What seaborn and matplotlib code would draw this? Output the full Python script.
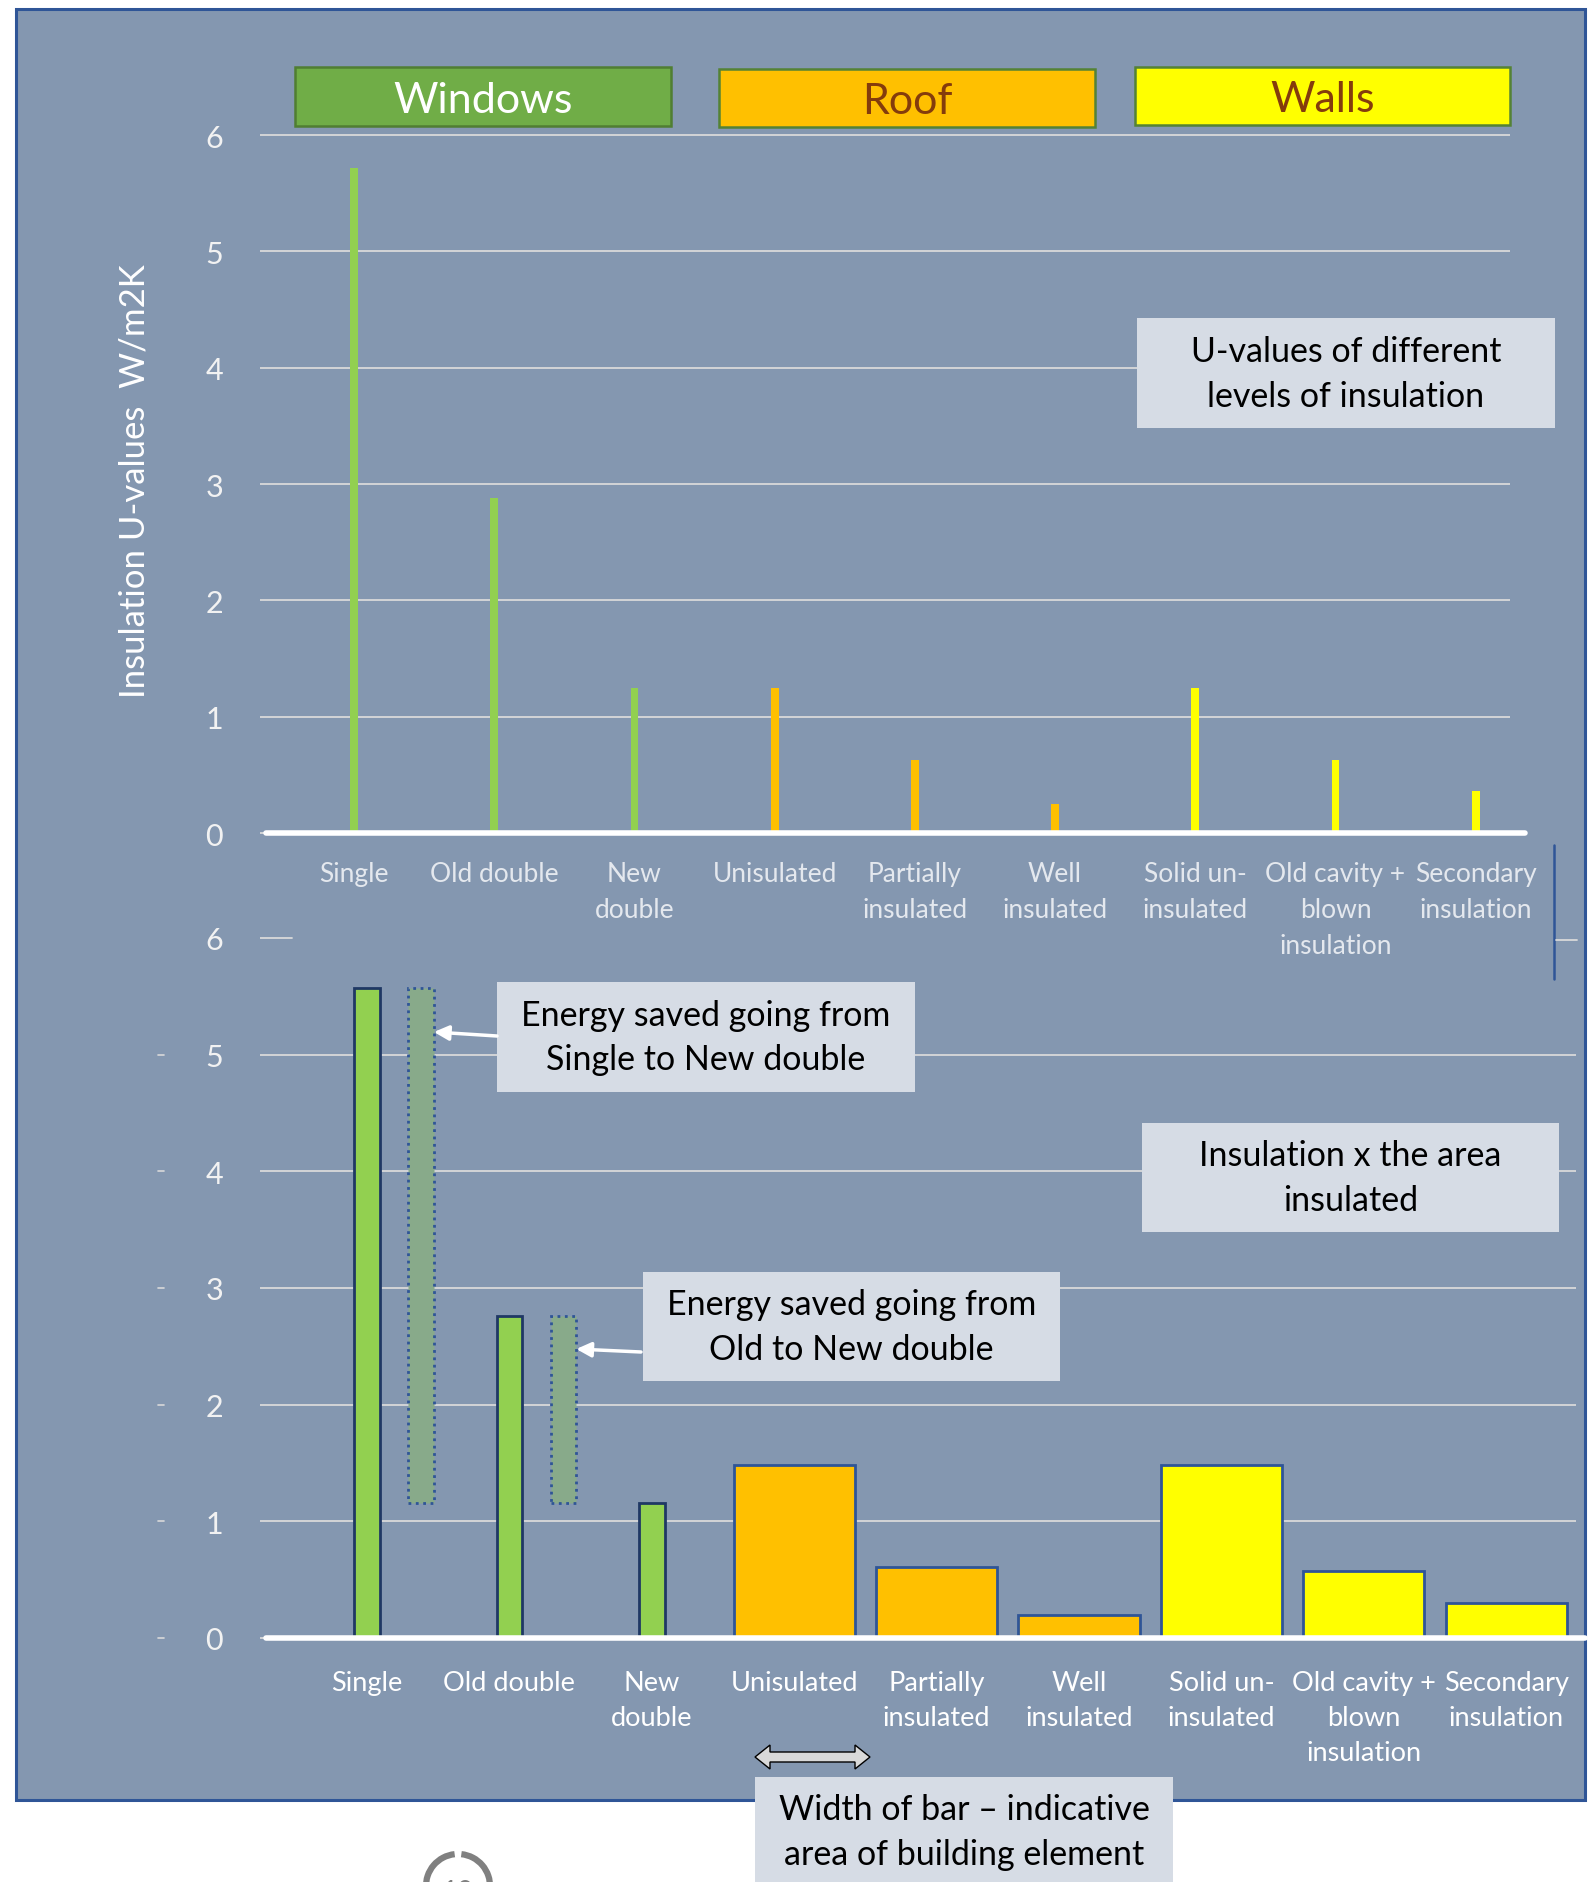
import numpy as np
import pandas as pd
import matplotlib
matplotlib.use("Agg")
import matplotlib.pyplot as plt
import matplotlib.patches as mpatches
import matplotlib.transforms as mtransforms
import seaborn as sns

# ---- data -------------------------------------------------------------
categories = ["Single", "Old double", "New\ndouble", "Unisulated",
              "Partially\ninsulated", "Well\ninsulated", "Solid un-\ninsulated",
              "Old cavity +\nblown\ninsulation", "Secondary\ninsulation"]
groups = ["Windows", "Windows", "Windows", "Roof", "Roof", "Roof",
          "Walls", "Walls", "Walls"]
# U-values (W/m2K) of each level of insulation
u_values = [5.72, 2.88, 1.25, 1.25, 0.63, 0.25, 1.25, 0.63, 0.36]
# U-value x area of the element
heat_loss = [5.57, 2.76, 1.16, 1.48, 0.61, 0.20, 1.48, 0.57, 0.30]
# indicative relative area of each building element (bar width)
element_area = [0.18, 0.18, 0.18, 0.85, 0.85, 0.85, 0.85, 0.85, 0.85]
y_ticks = [0, 1, 2, 3, 4, 5, 6]
group_names = ["Windows", "Roof", "Walls"]

# ---- style ------------------------------------------------------------
sns.set_theme(style="white")
plt.rcParams["font.family"] = ["Lato", "DejaVu Sans"]

W, H = 1592, 1883
PANEL = "#8497B0"
GRID = "#D9D9D9"
BOX = "#D6DCE5"
thin_colors = {"Windows": "#92D050", "Roof": "#FFC000", "Walls": "#FFFF00"}
edge_colors = {"Windows": "#1F3864", "Roof": "#2F5597", "Walls": "#2F5597"}
header_style = {
    "Windows": ("#70AD47", "#507E32", "white"),
    "Roof": ("#FFC000", "#548235", "#843C0C"),
    "Walls": ("#FFFF00", "#548235", "#843C0C"),
}
palette = {c: thin_colors[g] for c, g in zip(categories, groups)}


def rect(x0, y0, x1, y1):
    """pixel box (top-left origin) -> figure fraction rect"""
    return [x0 / W, 1 - y1 / H, (x1 - x0) / W, (y1 - y0) / H]


fig = plt.figure(figsize=(W / 100, H / 100), dpi=100)
fig.patch.set_facecolor("white")

# background panel
bg = fig.add_axes([0, 0, 1, 1], zorder=0)
bg.set_xlim(0, W)
bg.set_ylim(H, 0)
bg.axis("off")
bg.add_patch(mpatches.Rectangle((16, 10), 1569, 1791, facecolor=PANEL,
                                edgecolor="#2F5597", lw=2.2))

df = pd.DataFrame({"element": categories, "group": groups,
                   "u": u_values, "loss": heat_loss, "area": element_area})


def style_axis(ax, grid_vals, stub_vals, label_color, xpad, xsize, xls):
    ax.set_facecolor("none")
    for s in ax.spines.values():
        s.set_visible(False)
    ax.set_yticks(y_ticks)
    ax.set_yticklabels([str(v) for v in y_ticks])
    ax.tick_params(axis="y", length=4, width=1.3, color=GRID, pad=27,
                   labelsize=22, labelcolor="#F2F2F2", left=True)
    ax.tick_params(axis="x", length=0, pad=xpad, labelsize=xsize,
                   labelcolor=label_color)
    for lab in ax.get_xticklabels():
        lab.set_multialignment("center")
        lab.set_linespacing(xls)
    for v in grid_vals:
        ax.axhline(v, color=GRID, lw=1.3, zorder=0)
    for v in stub_vals:
        ax.axhline(v, xmin=0, xmax=0.02, color=GRID, lw=1.3, zorder=0)
    ax.set_xlabel("")
    ax.set_ylabel("")


# ---- top chart: U-values ---------------------------------------------
ax1 = fig.add_axes(rect(266, 834 - 6.05 * 116.33, 1510, 834), zorder=1)
sns.barplot(data=df, x="element", y="u", hue="element", palette=palette,
            width=0.055, saturation=1, legend=False, linewidth=0, ax=ax1)
ax1.set_xlim(-0.628, 8.245)
ax1.set_ylim(0, 6.05)
style_axis(ax1, y_ticks[1:], [], "#E4E8EE", 20, 19, 1.55)
ax1.axhline(0, xmin=0, xmax=1.012, color="white", lw=4, clip_on=False,
            zorder=3)

# ---- bottom chart: U-value x area -------------------------------------
ax2 = fig.add_axes(rect(266, 1639 - 6.05 * 116.67, 1576, 1639), zorder=1)
sns.barplot(data=df, x="element", y="loss", hue="element", palette=palette,
            width=0.8, saturation=1, legend=False, linewidth=2, ax=ax2)
for p in ax2.patches:
    idx = int(round(p.get_x() + p.get_width() / 2))
    w = element_area[idx]
    p.set_x(idx - w / 2)
    p.set_width(w)
    p.set_edgecolor(edge_colors[groups[idx]])
    p.set_linewidth(2)

# energy saved by upgrading to new double glazing
new_double = heat_loss[2]
saving_idx = [0, 1]
ax2.bar([i + 0.38 for i in saving_idx],
        [heat_loss[i] - new_double for i in saving_idx],
        bottom=new_double, width=element_area[0], color="#88AA8A",
        edgecolor="#2F5597", linestyle=":", linewidth=2, zorder=2)

ax2.set_xlim(-0.709, 8.49)
ax2.set_ylim(0, 6.05)
style_axis(ax2, y_ticks[1:-1], [y_ticks[-1]], "white", 23, 19.5, 1.5)
ax2.axhline(0, xmin=0, xmax=1.007, color="white", lw=4, clip_on=False,
            zorder=3)

# ---- overlay: headers, notes, arrows ----------------------------------
ov = fig.add_axes([0, 0, 1, 1], zorder=5)
ov.set_xlim(0, W)
ov.set_ylim(H, 0)
ov.axis("off")


def box(x0, y0, x1, y1, text, fc=BOX, ec="none", lw=0, color="black",
        size=24.5, ls=1.5, ty=None):
    ov.add_patch(mpatches.Rectangle((x0, y0), x1 - x0, y1 - y0, facecolor=fc,
                                    edgecolor=ec, lw=lw, clip_on=False))
    ty = (y0 + y1) / 2 if ty is None else ty
    ov.text((x0 + x1) / 2, ty, text, ha="center", va="center",
            color=color, fontsize=size, linespacing=ls, clip_on=False)


header_boxes = {"Windows": (295, 68, 671, 127), "Roof": (719, 70, 1095, 128),
                "Walls": (1135, 68, 1510, 126)}
for g in group_names:
    fc, ec, tc = header_style[g]
    x0, y0, x1, y1 = header_boxes[g]
    box(x0, y0, x1, y1, g, fc=fc, ec=ec, lw=1.8, color=tc, size=31,
        ty=(y0 + y1) / 2 + 3)

box(1137, 319, 1555, 429, "U-values of different\nlevels of insulation")
box(497, 983, 915, 1093, "Energy saved going from\nSingle to New double")
box(1142, 1124, 1559, 1233, "Insulation x the area\ninsulated")
box(643, 1273, 1060, 1382, "Energy saved going from\nOld to New double")
box(755, 1778, 1173, 1900,
    "Width of bar \u2013 indicative\narea of building element", ty=1833)

blend = mtransforms.blended_transform_factory(ax2.transData, ov.transData)
arrow_kw = dict(arrowstyle="-|>", color="white", lw=2.5, mutation_scale=22,
                shrinkA=0, shrinkB=0)
ov.annotate("", xy=(0 + 0.38 + element_area[0] / 2, 1033), xycoords=blend,
            xytext=(497, 1037), textcoords="data", arrowprops=arrow_kw)
ov.annotate("", xy=(1 + 0.38 + element_area[1] / 2, 1350), xycoords=blend,
            xytext=(641, 1353), textcoords="data", arrowprops=arrow_kw)

# width indicator: block double arrow
ax0, ax1_, yc, hl, hh, sh = 755, 870, 1758, 15, 12, 5
darrow = [(ax0, yc), (ax0 + hl, yc - hh), (ax0 + hl, yc - sh),
          (ax1_ - hl, yc - sh), (ax1_ - hl, yc - hh), (ax1_, yc),
          (ax1_ - hl, yc + hh), (ax1_ - hl, yc + sh), (ax0 + hl, yc + sh),
          (ax0 + hl, yc + hh)]
ov.add_patch(mpatches.Polygon(darrow, closed=True, facecolor="#D9D9D9",
                              edgecolor="black", lw=1))

# y-axis title
fig.text(134 / W, 1 - 481 / H, "Insulation U-values  W/m2K", rotation=90,
         ha="center", va="center", color="white", fontsize=25)

# small stray ticks beside the lower axis
tick_blend = mtransforms.blended_transform_factory(ov.transData, ax2.transData)
for v in y_ticks[:-1]:
    ov.plot([158, 164], [v, v], transform=tick_blend, color=GRID, lw=1.2,
            clip_on=False)

# frame edge line of an overlapping chart
ov.plot([1554, 1554], [846, 980], color="#2F5597", lw=1.8)
ov.plot([1556, 1577], [941, 941], color=GRID, lw=1.3)

# page number marker
ov.add_patch(mpatches.Arc((458, 1887), 64, 64, theta1=276, theta2=624,
                          color="#808080", lw=4.5, clip_on=False))
ov.text(458, 1893, "10", ha="center", va="center", color="#808080",
        fontsize=20, clip_on=False)

fig.savefig("out.png", dpi=100, facecolor="white")
